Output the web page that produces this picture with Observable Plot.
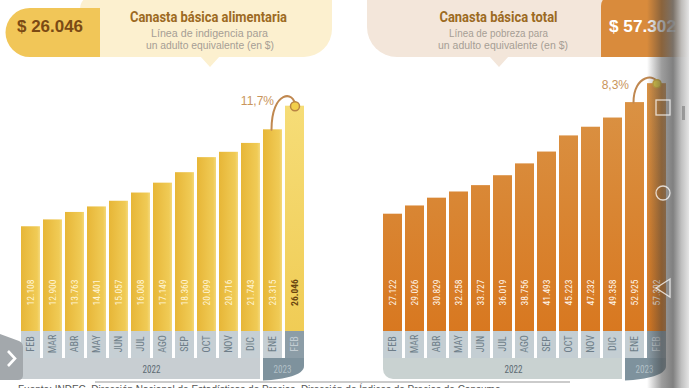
<!DOCTYPE html>
<html><head><meta charset="utf-8">
<script src="https://cdn.jsdelivr.net/npm/d3@7"></script>
<script src="https://cdn.jsdelivr.net/npm/@observablehq/plot@0.6"></script>
<style>
body{margin:0;background:#fff;}
#wrap{position:relative;width:689px;height:388px;overflow:hidden;background:#fff;font-family:"Liberation Sans",Arial,sans-serif;}
#wrap > svg{position:absolute;left:0;top:0;}
#phone{position:absolute;left:647px;top:0;width:42px;height:388px;
 background:linear-gradient(to right,rgba(40,40,40,0) 0%,rgba(60,60,60,0.5) 35%,rgba(110,110,110,0.88) 62%,rgba(190,190,190,0.97) 82%,rgba(228,228,228,1) 100%);}
#foot{position:absolute;left:18px;top:384px;font-size:10px;color:#555;white-space:nowrap;font-family:"Liberation Sans",Arial,sans-serif;}
</style></head><body><div id="wrap"></div>
<script>
// ---- data ----
const months = ["FEB","MAR","ABR","MAY","JUN","JUL","AGO","SEP","OCT","NOV","DIC","ENE","FEB"];
const years  = [2022,2022,2022,2022,2022,2022,2022,2022,2022,2022,2022,2023,2023];
const cba = [12108,12900,13763,14401,15057,16008,17149,18360,20099,20716,21743,23315,26046];
const cbt = [27122,29026,30829,32258,33727,36019,38756,41493,45223,47232,49358,52925,57302];
const cbaChange = "11,7%";
const cbtChange = "8,3%";
const cbaTitle = "Canasta básica alimentaria";
const cbaSub = ["Línea de indigencia para","un adulto equivalente (en $)"];
const cbtTitle = "Canasta básica total";
const cbtSub = ["Línea de pobreza para","un adulto equivalente (en $)"];
const source = "Fuente: INDEC, Dirección Nacional de Estadísticas de Precios, Dirección de Índices de Precios de Consumo.";

const loc = d3.formatLocale({decimal:",",thousands:".",grouping:[3],currency:["$ ",""]});
const fmt = loc.format(",d");
const keys = months.map((m,i)=>m+" "+years[i]);
const rows = vals => keys.map((k,i)=>({key:k,month:months[i],year:years[i],value:vals[i],last:i===keys.length-1}));
const wrap = d3.select("#wrap");
const narrow = "'Liberation Sans Narrow','Roboto Condensed',Roboto,sans-serif";

// ---- header (titles) ----
const hdr = wrap.append("svg").attr("width",689).attr("height",388);
function txt(g,s,x,y,len,size,weight,fill,family){
  g.append("text").attr("x",x).attr("y",y).attr("text-anchor","middle")
   .attr("font-size",size).attr("font-weight",weight).attr("fill",fill)
   .attr("font-family",family||"'Liberation Sans',Arial,sans-serif")
   .attr("textLength",len).attr("lengthAdjust","spacingAndGlyphs").text(s);
}
// left header
hdr.append("path").attr("d","M80,9 A14,14 0 0 1 94,-5 H332 V29 A28,28 0 0 1 304,57 H80 Z").attr("fill","#FCF0CF");
hdr.append("path").attr("d","M200,56 L210,67 L220,56 Z").attr("fill","#FCF0CF");
hdr.append("path").attr("d","M100,8 V57 H30 A24.5,24.5 0 0 1 30,8 Z").attr("fill","#F1C658");
txt(hdr,"$ "+fmt(cba[cba.length-1]),50,32,66,17,"bold","#7B4A14");
txt(hdr,cbaTitle,208.5,22,157,14.5,"bold","#9C6A22","Roboto,sans-serif");
txt(hdr,cbaSub[0],209.5,36.5,117,10.5,"normal","#A69E95");
txt(hdr,cbaSub[1],210,49,128,10.5,"normal","#A69E95");
// right header
hdr.append("path").attr("d","M367,-5 H612 V57 H397 A30,30 0 0 1 367,27 Z").attr("fill","#F3E6DA");
hdr.append("path").attr("d","M489,56 L499,67 L509,56 Z").attr("fill","#F3E6DA");
hdr.append("path").attr("d","M601,6 A11,11 0 0 1 612,-5 H689 V57 H601 Z").attr("fill","#D98B3C");
txt(hdr,"$ "+fmt(cbt[cbt.length-1]),642.5,32,67,17,"bold","#FFFFFF");
txt(hdr,cbtTitle,498.5,22,118,14.5,"bold","#9C6A22","Roboto,sans-serif");
txt(hdr,cbtSub[0],498.5,36.5,99,10.5,"normal","#A69E95");
txt(hdr,cbtSub[1],503,49,130,10.5,"normal","#A69E95");

// custom arc curve for the change annotation
function arcCurve(lift, dx0){
  return function(context){
    let pts = [];
    return {
      areaStart(){}, areaEnd(){},
      lineStart(){pts=[];},
      point(x,y){pts.push([+x,+y]);},
      lineEnd(){
        if(pts.length<2) return;
        const [x0,y0] = [pts[0][0]+dx0, pts[0][1]];
        const [x1,y1] = pts[pts.length-1];
        context.moveTo(x0,y0);
        context.bezierCurveTo(x0, y1-lift, x1, y1-lift, x1, y1);
      }
    };
  };
}

function chart(cfg){
  const data = rows(cfg.values);
  const normal = data.filter(d=>!d.last), last = data.filter(d=>d.last);
  const ene = data[data.length-2], feb = data[data.length-1];
  const p = Plot.plot({
    width:689, height:388,
    style:{background:"transparent",overflow:"visible"},
    x:{type:"band",domain:keys,range:cfg.xRange,paddingInner:0.13,paddingOuter:0,axis:null},
    y:{domain:cfg.yDomain,range:[331,71.5],axis:null},
    marks:[
      Plot.barY(normal,{x:"key",y:"value",fill:cfg.barFill}),
      Plot.barY(last,{x:"key",y:"value",fill:cfg.lastFill}),
      Plot.barY(normal,{x:"key",y1:0,y2:0,insetBottom:-27,fill:cfg.boxFill}),
      Plot.barY(last,{x:"key",y1:0,y2:0,insetBottom:-27,fill:"#8C9DA7"}),
      Plot.text(normal,{x:"key",y:0,text:d=>fmt(d.value),rotate:-90,dy:-39,fill:cfg.valFill,fontSize:9.5,fontFamily:narrow}),
      Plot.text(last,{x:"key",y:0,text:d=>fmt(d.value),rotate:-90,dy:-39,fill:cfg.lastValFill,fontWeight:cfg.lastWeight,fontSize:9.5,fontFamily:narrow}),
      Plot.text(normal,{x:"key",y:0,text:"month",rotate:-90,dy:12.5,fill:"#6E7E89",fontSize:10,fontFamily:narrow}),
      Plot.text(last,{x:"key",y:0,text:"month",rotate:-90,dy:12.5,fill:"#C2CCD2",fontSize:10,fontFamily:narrow}),
      Plot.line([ene,feb],{x:"key",y:"value",curve:arcCurve(cfg.lift,-1.5),stroke:"#C08850",strokeWidth:2}),
      Plot.dot([feb],{x:"key",y:"value",r:cfg.r,fill:cfg.dotFill,stroke:cfg.dotStroke,strokeWidth:1.5}),
      Plot.text([ene],{x:"key",y:"value",text:()=>cfg.change,textAnchor:"end",dx:cfg.tdx,dy:cfg.tdy,fill:"#C9955C",fontSize:12,fontFamily:"'Liberation Sans',Arial,sans-serif"})
    ]
  });
  const svg = d3.select(p);
  const defs = svg.insert("defs",":first-child");
  cfg.defs(defs);
  // year bands drawn from the x scale
  const xs = p.scale("x"), bw = xs.bandwidth;
  const X = k => xs.apply(k);
  const i22 = years.indexOf(2022), l22 = years.lastIndexOf(2022), i23 = years.indexOf(2023), l23 = years.length-1;
  const g = svg.append("g");
  const bx0 = cfg.leftOpen ? 0 : X(keys[i22]);
  const bx1 = X(keys[l22]) + bw;
  if(cfg.leftOpen){
    g.append("rect").attr("x",bx0).attr("y",358).attr("width",bx1-bx0).attr("height",21).attr("fill",cfg.bandFill);
  } else {
    g.append("path").attr("d",`M${bx0},358 H${bx1} V379 H${bx0+10} A10,10 0 0 1 ${bx0},369 Z`).attr("fill",cfg.bandFill);
  }
  const c0 = X(keys[i23]), c1 = X(keys[l23]) + bw;
  g.append("path").attr("d",`M${c0},358 H${c1} V366 C${c1},375 ${c0+22},379.5 ${c0},380.5 Z`).attr("fill","#7E929D");
  const mid22 = (X(keys[0]) + X(keys[keys.length-2]) + bw)/2;
  g.append("text").attr("x",mid22).attr("y",373).attr("text-anchor","middle").attr("font-size",11.5)
    .attr("font-family",narrow).attr("fill","#5D6B74").attr("textLength",18).attr("lengthAdjust","spacingAndGlyphs").text("2022");
  g.append("text").attr("x",(c0+c1)/2-1).attr("y",373).attr("text-anchor","middle").attr("font-size",11.5)
    .attr("font-family",narrow).attr("fill","#B2C0C7").attr("textLength",18).attr("lengthAdjust","spacingAndGlyphs").text("2023");
  wrap.node().appendChild(p);
  return svg;
}

const left = chart({
  values:cba, xRange:[17,309], yDomain:[0,30000],
  barFill:"url(#gy)", lastFill:"url(#gy2)", boxFill:"#C6CFD4", bandFill:"#C8CED2",
  valFill:"#FFF5D6", lastValFill:"#6A4510", lastWeight:"bold",
  lift:16, r:4.5, dotFill:"#F2CF4C", dotStroke:"#B98544",
  change:cbaChange, tdx:1, tdy:-29, leftOpen:true,
  defs(d){
    const a = d.append("linearGradient").attr("id","gy").attr("x1",0).attr("x2",1).attr("y1",0).attr("y2",0);
    a.append("stop").attr("offset",0).attr("stop-color","#E7B637");
    a.append("stop").attr("offset",0.85).attr("stop-color","#F0CB56");
    a.append("stop").attr("offset",1).attr("stop-color","#F4D87A");
    const b = d.append("linearGradient").attr("id","gy2").attr("gradientUnits","userSpaceOnUse").attr("x1",0).attr("x2",0).attr("y1",100).attr("y2",331);
    b.append("stop").attr("offset",0).attr("stop-color","#F6DD78");
    b.append("stop").attr("offset",1).attr("stop-color","#F0CC55");
  }
});
const right = chart({
  values:cbt, xRange:[379.3,669], yDomain:[0,60000],
  barFill:"url(#go)", lastFill:"url(#go)", boxFill:"#C4CED3", bandFill:"#C9D2D1",
  valFill:"#FFF6EC", lastValFill:"#FFF6EC", lastWeight:"normal",
  lift:10, r:4, dotFill:"#E6D24A", dotStroke:"#D4B040",
  change:cbtChange, tdx:-6, tdy:-17, leftOpen:false,
  defs(d){
    const a = d.append("linearGradient").attr("id","go").attr("gradientUnits","userSpaceOnUse").attr("x1",0).attr("x2",0).attr("y1",80).attr("y2",331);
    a.append("stop").attr("offset",0).attr("stop-color","#DA9447");
    a.append("stop").attr("offset",1).attr("stop-color","#D87820");
  }
});

// left navigation tab, rule and source
const deco = wrap.append("svg").attr("width",689).attr("height",388);
deco.append("path").attr("d","M0,334 L19,341 Q23,342.5 23,347 V375 Q23,380 18,380 H0 Z").attr("fill","#A3A8AC");
deco.append("path").attr("d","M8,351 L15,358.5 L8,366").attr("fill","none").attr("stroke","#fff").attr("stroke-width",2.6);
deco.append("path").attr("d","M95,382 H570").attr("stroke","#CBCBCB").attr("stroke-width",2);
wrap.append("div").attr("id","foot").text(source);

// device overlay on the right edge
const ph = wrap.append("div").attr("id","phone");
const ps = ph.append("svg").attr("width",42).attr("height",388).style("position","absolute").style("left",0).style("top",0);
ps.append("rect").attr("x",9).attr("y",100).attr("width",14).attr("height",15).attr("fill","none").attr("stroke","rgba(255,255,255,0.75)").attr("stroke-width",1.3);
ps.append("circle").attr("cx",16).attr("cy",193).attr("r",7).attr("fill","none").attr("stroke","rgba(255,255,255,0.75)").attr("stroke-width",1.3);
ps.append("path").attr("d","M23,279 L9,288 L23,297 Z").attr("fill","none").attr("stroke","rgba(255,255,255,0.75)").attr("stroke-width",1.3);
ps.append("rect").attr("x",35).attr("y",106).attr("width",3).attr("height",14).attr("fill","rgba(120,120,120,0.6)");
</script></body></html>
